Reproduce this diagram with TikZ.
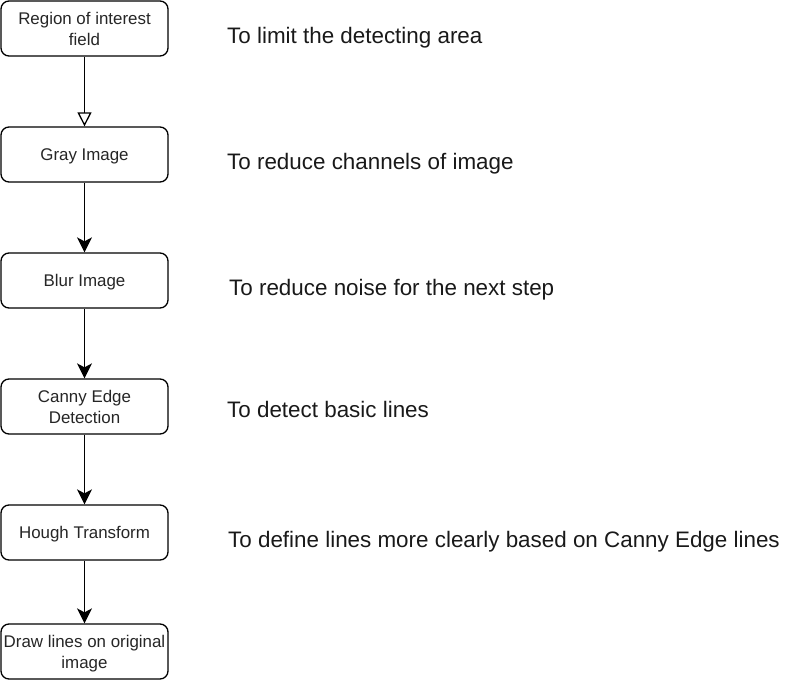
\documentclass[tikz,border=0pt]{standalone}
\usepackage{fontspec}
\setmainfont{Liberation Sans}
\usetikzlibrary{arrows.meta}
\begin{document}
\begin{tikzpicture}[x=1pt,y=-1pt,
  stepbox/.style={draw=black,line width=1.3pt,rounded corners=8pt,fill=white,
    minimum width=167pt,minimum height=55pt,inner sep=1pt,align=center,text depth=0pt,
    font=\fontsize{16.9}{21}\selectfont,text=black!85},
  note/.style={anchor=west,inner sep=0pt,font=\fontsize{22.4}{26}\selectfont,text=black!90},
  conn/.style={line width=1.3pt,-{Stealth[length=15pt,width=15pt,inset=4pt]}},
  openconn/.style={line width=1.3pt,-{Triangle[open,length=14pt,width=14pt]}}]
\useasboundingbox (0,0) rectangle (798,696);
\node[stepbox] (roi) at (84.5,28.5) {Region of interest\\field};
\node[stepbox] (gray) at (84.5,154.5) {Gray Image};
\node[stepbox] (blur) at (84.5,280.5) {Blur Image};
\node[stepbox] (canny) at (84.5,406.5) {Canny Edge\\Detection};
\node[stepbox] (hough) at (84.5,532.5) {Hough Transform};
\node[stepbox] (draw) at (84.5,651.5) {Draw lines on original\\image};
\draw[openconn] (roi) -- (gray);
\draw[conn] (gray) -- (blur);
\draw[conn] (blur) -- (canny);
\draw[conn] (canny) -- (hough);
\draw[conn] (hough) -- (draw);
\node[note] (n1) at (227,38) {To limit the detecting area};
\node[note] (n2) at (227,164) {To reduce channels of image};
\node[note] (n3) at (229,290) {To reduce noise for the next step};
\node[note] (n4) at (227,409) {To detect basic lines};
\node[note] (n5) at (228,542) {To define lines more clearly based on Canny Edge lines};
\end{tikzpicture}
\end{document}
